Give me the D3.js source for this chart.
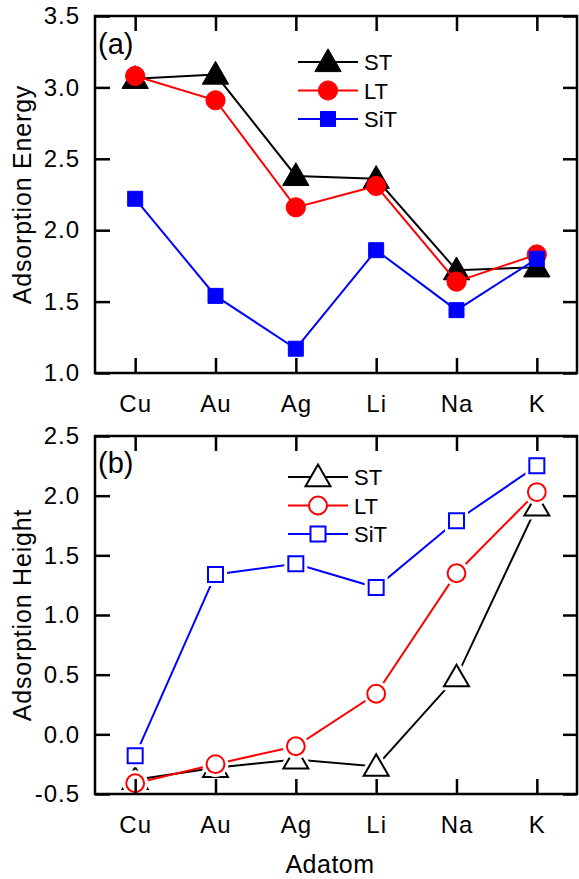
<!DOCTYPE html>
<html><head><meta charset="utf-8">
<script src="https://cdn.jsdelivr.net/npm/d3@7"></script>
<style>
body{margin:0;background:#fff;}
svg{display:block;font-family:"Liberation Sans",Arial,sans-serif;}
</style></head><body>
<svg id="c" width="579" height="879"></svg>
<script>
const categories = ["Cu","Au","Ag","Li","Na","K"];
const seriesNames = ["ST","LT","SiT"];
const colors = ["#000000","#ff0000","#0000ff"];
const shapes = ["triangle","circle","square"];
// panel (a) Adsorption Energy
const energyST  = [3.06, 3.09, 2.38, 2.36, 1.72, 1.74];
const energyLT  = [3.08, 2.91, 2.16, 2.31, 1.64, 1.83];
const energySiT = [2.22, 1.54, 1.17, 1.86, 1.44, 1.80];
// panel (b) Adsorption Height
const heightST  = [-0.38, -0.28, -0.21, -0.27, 0.48, 1.91];
const heightLT  = [-0.41, -0.25, -0.10, 0.34, 1.35, 2.03];
const heightSiT = [-0.18, 1.34, 1.43, 1.23, 1.79, 2.25];
const energyTicks = [1.0, 1.5, 2.0, 2.5, 3.0, 3.5];
const heightTicks = [-0.5, 0.0, 0.5, 1.0, 1.5, 2.0, 2.5];

const svg = d3.select("#c");
const L = 95, R = 577;
const x = d3.scalePoint().domain(categories).range([L, R]).padding(0.5);

function symbolPath(shape, size){
  const s = shape==="triangle"?d3.symbolTriangle:shape==="circle"?d3.symbolCircle:d3.symbolSquare;
  return d3.symbol().type(s).size(size)();
}

function panel(cfg){
  const {top,bottom,domain,ticks,data,filled,tag,legendX,legendY,ylabel} = cfg;
  const y = d3.scaleLinear().domain(domain).range([bottom, top]);
  const g = svg.append("g");
  // series
  data.forEach((vals,i)=>{
    const col = colors[i];
    const pts = categories.map((c,j)=>[x(c), y(vals[j])]);
    g.append("path").attr("d", d3.line()(pts)).attr("fill","none")
      .attr("stroke",col).attr("stroke-width",2);
    const sz = filled ? [300,290,225][i] : [270,250,225][i];
    pts.forEach(p=>{
      const off = shapes[i]==="triangle" ? 2 : 0;
      if(!filled){
        g.append("path").attr("d",symbolPath(shapes[i],sz))
          .attr("transform",`translate(${p[0]},${p[1]+off})`)
          .attr("fill","#fff").attr("stroke","#fff").attr("stroke-width",8);
      }
      g.append("path").attr("d",symbolPath(shapes[i],sz))
        .attr("transform",`translate(${p[0]},${p[1]+off})`)
        .attr("fill", filled?col:"#fff").attr("stroke",col).attr("stroke-width",filled?1:2);
    });
  });
  // axes
  const fmt = v => d3.format(".1f")(v).replace("\u2212","-");
  const ax = g.append("g").attr("transform",`translate(${L},0)`)
    .call(d3.axisLeft(y).tickValues(ticks).tickFormat(fmt).tickSizeInner(-15).tickSizeOuter(0).tickPadding(15));
  const axR = g.append("g").attr("transform",`translate(${R},0)`)
    .call(d3.axisRight(y).tickValues(ticks).tickFormat("").tickSizeInner(-14).tickSizeOuter(0));
  const axB = g.append("g").attr("transform",`translate(0,${bottom})`)
    .call(d3.axisBottom(x).tickSizeInner(-15).tickSizeOuter(0).tickPadding(22));
  const axT = g.append("g").attr("transform",`translate(0,${top})`)
    .call(d3.axisTop(x).tickFormat("").tickSizeInner(-15).tickSizeOuter(0));
  [ax,axR,axB,axT].forEach(a=>{
    a.select(".domain").remove();
    a.selectAll("line").attr("stroke","#000").attr("stroke-width",2.5);
    a.selectAll("text").attr("font-size",24).attr("fill","#000")
      .attr("font-family","'Liberation Sans',Arial,sans-serif").style("letter-spacing","1px");
  });
  g.append("rect").attr("x",L).attr("y",top).attr("width",R-L).attr("height",bottom-top)
    .attr("fill","none").attr("stroke","#000").attr("stroke-width",2.5);
  // y label
  g.append("text").attr("transform",`translate(31,${(top+bottom)/2}) rotate(-90)`)
    .attr("text-anchor","middle").attr("font-size",25).style("letter-spacing","0.8px").text(ylabel);
  // tag
  g.append("text").attr("x",98).attr("y",tag.y).attr("font-size",29).text(tag.t);
  // legend
  seriesNames.forEach((n,i)=>{
    const ly = legendY + i*28.5;
    g.append("line").attr("x1",legendX).attr("x2",legendX+60).attr("y1",ly).attr("y2",ly)
      .attr("stroke",colors[i]).attr("stroke-width",2);
    const sz = filled ? [300,290,225][i] : [270,250,225][i];
    const off = shapes[i]==="triangle" ? 2 : 0;
    g.append("path").attr("d",symbolPath(shapes[i],sz))
      .attr("transform",`translate(${legendX+30},${ly+off})`)
      .attr("fill", filled?colors[i]:"#fff").attr("stroke",colors[i]).attr("stroke-width",filled?1:2);
    g.append("text").attr("x",legendX+66).attr("y",ly+8).attr("font-size",22).text(n);
  });
}

panel({top:16,bottom:373,domain:[1.0,3.5],ticks:energyTicks,
  data:[energyST,energyLT,energySiT],filled:true,
  tag:{t:"(a)",y:54},legendX:298,legendY:62,ylabel:"Adsorption Energy"});
panel({top:436,bottom:794,domain:[-0.5,2.5],ticks:heightTicks,
  data:[heightST,heightLT,heightSiT],filled:false,
  tag:{t:"(b)",y:473},legendX:288,legendY:477,ylabel:"Adsorption Height"});

svg.append("text").attr("x",330).attr("y",873).attr("text-anchor","middle")
  .attr("font-size",25).style("letter-spacing","0.5px").text("Adatom");
</script>
</body></html>
